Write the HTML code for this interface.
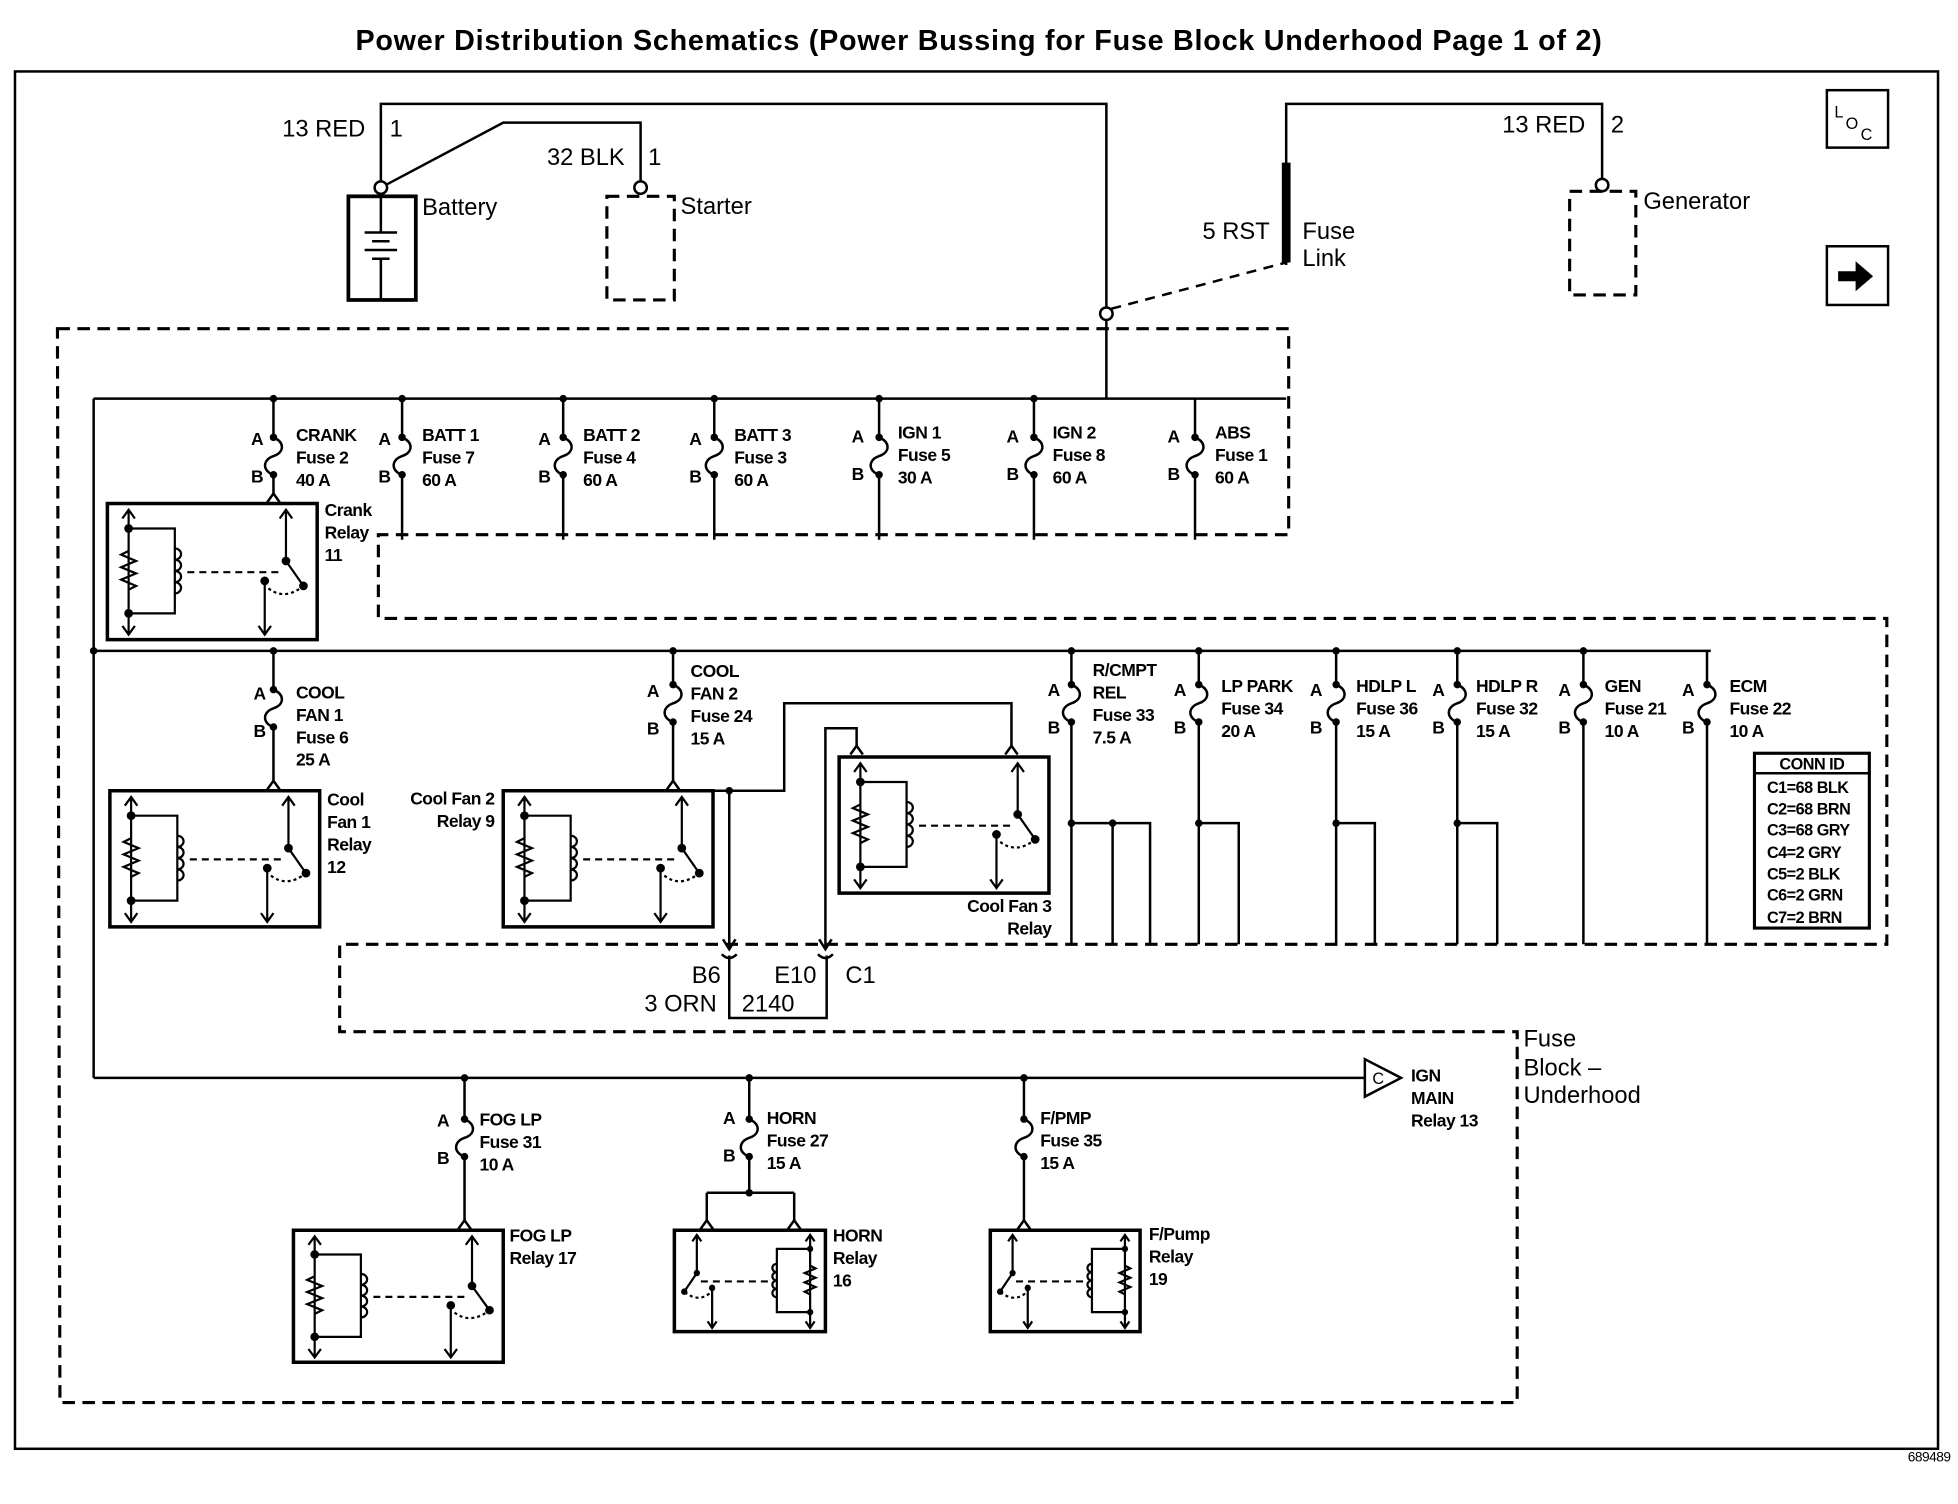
<!DOCTYPE html>
<html><head><meta charset="utf-8"><style>
html,body{margin:0;padding:0;background:#fff}
svg{display:block}
text{font-family:"Liberation Sans",sans-serif;font-weight:bold;font-size:14px;fill:#000;letter-spacing:-0.4px}
.big{font-size:19px;font-weight:normal;letter-spacing:0}
.l{stroke:#000;stroke-width:2;fill:none}
.d{stroke:#000;stroke-width:2.5;fill:none;stroke-dasharray:10 6}
</style></head><body>
<svg width="1958" height="1504" viewBox="0 0 1568 1204" xmlns="http://www.w3.org/2000/svg">
<defs>
<g id="relay">
 <rect x="0" y="0" width="168" height="109" stroke="#000" stroke-width="3.5" fill="none" vector-effect="non-scaling-stroke"/>
 <g stroke="#000" stroke-width="2.2" fill="none">
  <path d="M17,6 V104 M12,12 L17,5 L22,12 M12,98 L17,105 L22,98" vector-effect="non-scaling-stroke"/>
  <path d="M17,20 H54 V88 H17" vector-effect="non-scaling-stroke"/>
  <path d="M17,38 l-6,3 l12,5 l-12,5 l12,5 l-12,5 l12,5 l-6,3" vector-effect="non-scaling-stroke"/>
  <path d="M54,36 a5,4.5 0 0 1 0,9 a5,4.5 0 0 1 0,9 a5,4.5 0 0 1 0,9 a5,4.5 0 0 1 0,9" vector-effect="non-scaling-stroke"/>
  <path d="M64,55 H140" stroke-dasharray="7 5" vector-effect="non-scaling-stroke"/>
  <path d="M143,6 V46 L157,66 M138,12 L143,5 L148,12" vector-effect="non-scaling-stroke"/>
  <path d="M126,62 V104 M121,98 L126,105 L131,98" vector-effect="non-scaling-stroke"/>
  <path d="M129,68 Q142,78 157,66" stroke-dasharray="3 3" vector-effect="non-scaling-stroke"/>
 </g>
 <circle cx="17" cy="20" r="3.5"/><circle cx="17" cy="88" r="3.5"/>
 <circle cx="143" cy="46" r="3.5"/><circle cx="157" cy="66" r="3.5"/><circle cx="126" cy="62" r="3.5"/>
</g>
<g id="fuse">
 <path d="M0,0 c9,4 9,12 0,15 c-9,3 -9,12 0,15" class="l"/>
 <circle cx="0" cy="0" r="3"/><circle cx="0" cy="30" r="3"/>
</g>
<g id="arr"><path d="M-5,-8 L0,0 L5,-8" class="l"/></g>
</defs>

<text x="784" y="40" text-anchor="middle" style="font-size:23px;letter-spacing:0.6px">Power Distribution Schematics (Power Bussing for Fuse Block Underhood Page 1 of 2)</text>
<rect x="12" y="57" width="1540" height="1103" class="l"/>
<text x="1562" y="1170" text-anchor="end" style="font-size:11px;font-weight:normal">689489</text>

<!-- top wiring -->
<path d="M305,150 V83 H886 V246" class="l"/>
<path d="M305,150 L403,98 H513 V145" class="l"/>
<circle cx="305" cy="150" r="5" fill="#fff" stroke="#000" stroke-width="2"/>
<circle cx="513" cy="150" r="5" fill="#fff" stroke="#000" stroke-width="2"/>
<rect x="279" y="157" width="54" height="83" stroke="#000" stroke-width="3" fill="none"/>
<path d="M305,157 V185 M292,186 H318 M298,193 H312 M292,200 H318 M298,207 H312 M305,207 V240" class="l"/>
<rect x="486" y="157" width="54" height="83" class="d"/>
<text x="226" y="109" class="big">13 RED</text><text x="312" y="109" class="big">1</text>
<text x="438" y="132" class="big">32 BLK</text><text x="519" y="132" class="big">1</text>
<text x="338" y="172" class="big">Battery</text>
<text x="545" y="171" class="big">Starter</text>

<path d="M1030,212 V83 H1283 V143" class="l"/>
<path d="M1030,130 V210" stroke="#000" stroke-width="7"/>
<path d="M890,247 L1030,210" class="l" stroke-dasharray="8 6"/>
<circle cx="886" cy="251" r="5" fill="#fff" stroke="#000" stroke-width="2"/>
<circle cx="1283" cy="148" r="5" fill="#fff" stroke="#000" stroke-width="2"/>
<rect x="1257" y="153" width="53" height="83" class="d"/>
<text x="963" y="191" class="big">5 RST</text>
<text x="1043" y="191" class="big">Fuse</text><text x="1043" y="213" class="big">Link</text>
<text x="1203" y="106" class="big">13 RED</text><text x="1290" y="106" class="big">2</text>
<text x="1316" y="167" class="big">Generator</text>

<rect x="1463" y="72" width="49" height="46" class="l"/>
<text x="1469" y="94" style="font-size:13px;font-weight:normal">L</text>
<text x="1478" y="103" style="font-size:13px;font-weight:normal">O</text>
<text x="1490" y="112" style="font-size:13px;font-weight:normal">C</text>
<rect x="1463" y="197" width="49" height="47" class="l"/>
<path d="M1472,217 H1486 V209 L1500,221 L1486,233 V225 H1472 Z" fill="#000"/>

<!-- big dashed enclosure -->
<path d="M46,263 H1032 V428 H303 V495 H1511 V756 H272 V826 H1215 V1123 H48 Z" class="d"/>
<text x="1220" y="838" class="big">Fuse</text>
<text x="1220" y="861" class="big">Block –</text>
<text x="1220" y="883" class="big">Underhood</text>

<!-- buses -->
<path d="M886,256 V319 M75,319 H1030 M75,319 V863 M75,521 H1370 M75,863 H1093" class="l"/>
<circle cx="75" cy="521" r="3"/>
<path d="M1093,848 L1122,863 L1093,878 Z" fill="#fff" stroke="#000" stroke-width="2"/>
<text x="1099" y="868" style="font-size:13px;font-weight:normal">C</text>
<text x="1130" y="866">IGN</text><text x="1130" y="884">MAIN</text><text x="1130" y="902">Relay 13</text>

<!-- row 1 fuses -->
<g>
<circle cx="219" cy="319" r="3"/><circle cx="322" cy="319" r="3"/><circle cx="451" cy="319" r="3"/><circle cx="572" cy="319" r="3"/><circle cx="704" cy="319" r="3"/><circle cx="828" cy="319" r="3"/>
<path d="M219,319 V350 M219,380 V396 M322,319 V350 M322,380 V432 M451,319 V350 M451,380 V432 M572,319 V350 M572,380 V432 M704,319 V350 M704,380 V432 M828,319 V350 M828,380 V432 M957,319 V350 M957,380 V432" class="l"/>
<use href="#fuse" x="219" y="350"/><use href="#fuse" x="322" y="350"/><use href="#fuse" x="451" y="350"/><use href="#fuse" x="572" y="350"/><use href="#fuse" x="704" y="350"/><use href="#fuse" x="828" y="350"/><use href="#fuse" x="957" y="350"/>
<path d="M214,402 L219,395 L224,402" class="l"/>
<text x="201" y="356">A</text><text x="201" y="386">B</text><text x="237" y="353">CRANK</text><text x="237" y="371">Fuse 2</text><text x="237" y="389">40 A</text>
<text x="303" y="356">A</text><text x="303" y="386">B</text><text x="338" y="353">BATT 1</text><text x="338" y="371">Fuse 7</text><text x="338" y="389">60 A</text>
<text x="431" y="356">A</text><text x="431" y="386">B</text><text x="467" y="353">BATT 2</text><text x="467" y="371">Fuse 4</text><text x="467" y="389">60 A</text>
<text x="552" y="356">A</text><text x="552" y="386">B</text><text x="588" y="353">BATT 3</text><text x="588" y="371">Fuse 3</text><text x="588" y="389">60 A</text>
<text x="682" y="354">A</text><text x="682" y="384">B</text><text x="719" y="351">IGN 1</text><text x="719" y="369">Fuse 5</text><text x="719" y="387">30 A</text>
<text x="806" y="354">A</text><text x="806" y="384">B</text><text x="843" y="351">IGN 2</text><text x="843" y="369">Fuse 8</text><text x="843" y="387">60 A</text>
<text x="935" y="354">A</text><text x="935" y="384">B</text><text x="973" y="351">ABS</text><text x="973" y="369">Fuse 1</text><text x="973" y="387">60 A</text>
</g>
<use href="#relay" x="86" y="403"/>
<text x="260" y="413">Crank</text><text x="260" y="431">Relay</text><text x="260" y="449">11</text>

<!-- row 2 fuses -->
<g>
<circle cx="219" cy="521" r="3"/><circle cx="539" cy="521" r="3"/><circle cx="858" cy="521" r="3"/><circle cx="960" cy="521" r="3"/><circle cx="1070" cy="521" r="3"/><circle cx="1167" cy="521" r="3"/><circle cx="1268" cy="521" r="3"/>
<path d="M219,521 V552 M219,582 V626 M539,521 V548 M539,578 V626 M858,521 V548 M858,578 V756 M960,521 V548 M960,578 V756 M1070,521 V548 M1070,578 V756 M1167,521 V548 M1167,578 V756 M1268,521 V548 M1268,578 V756 M1367,521 V548 M1367,578 V756" class="l"/>
<path d="M858,659 H921 V756 M891,659 V756 M960,659 H992 V756 M1070,659 H1101 V756 M1167,659 H1199 V756" class="l"/>
<circle cx="858" cy="659" r="3"/><circle cx="891" cy="659" r="3"/><circle cx="960" cy="659" r="3"/><circle cx="1070" cy="659" r="3"/><circle cx="1167" cy="659" r="3"/>
<use href="#fuse" x="219" y="552"/><use href="#fuse" x="539" y="548"/><use href="#fuse" x="858" y="548"/><use href="#fuse" x="960" y="548"/><use href="#fuse" x="1070" y="548"/><use href="#fuse" x="1167" y="548"/><use href="#fuse" x="1268" y="548"/><use href="#fuse" x="1367" y="548"/>
<path d="M214,632 L219,625 L224,632 M534,632 L539,625 L544,632" class="l"/>
<text x="203" y="560">A</text><text x="203" y="590">B</text><text x="237" y="559">COOL</text><text x="237" y="577">FAN 1</text><text x="237" y="595">Fuse 6</text><text x="237" y="613">25 A</text>
<text x="518" y="558">A</text><text x="518" y="588">B</text><text x="553" y="542">COOL</text><text x="553" y="560">FAN 2</text><text x="553" y="578">Fuse 24</text><text x="553" y="596">15 A</text>
<text x="839" y="557">A</text><text x="839" y="587">B</text><text x="875" y="541">R/CMPT</text><text x="875" y="559">REL</text><text x="875" y="577">Fuse 33</text><text x="875" y="595">7.5 A</text>
<text x="940" y="557">A</text><text x="940" y="587">B</text><text x="978" y="554">LP PARK</text><text x="978" y="572">Fuse 34</text><text x="978" y="590">20 A</text>
<text x="1049" y="557">A</text><text x="1049" y="587">B</text><text x="1086" y="554">HDLP L</text><text x="1086" y="572">Fuse 36</text><text x="1086" y="590">15 A</text>
<text x="1147" y="557">A</text><text x="1147" y="587">B</text><text x="1182" y="554">HDLP R</text><text x="1182" y="572">Fuse 32</text><text x="1182" y="590">15 A</text>
<text x="1248" y="557">A</text><text x="1248" y="587">B</text><text x="1285" y="554">GEN</text><text x="1285" y="572">Fuse 21</text><text x="1285" y="590">10 A</text>
<text x="1347" y="557">A</text><text x="1347" y="587">B</text><text x="1385" y="554">ECM</text><text x="1385" y="572">Fuse 22</text><text x="1385" y="590">10 A</text>
</g>
<use href="#relay" x="88" y="633"/>
<text x="262" y="645">Cool</text><text x="262" y="663">Fan 1</text><text x="262" y="681">Relay</text><text x="262" y="699">12</text>
<use href="#relay" x="403" y="633"/>
<text x="396" y="644" text-anchor="end">Cool Fan 2</text><text x="396" y="662" text-anchor="end">Relay 9</text>
<use href="#relay" x="672" y="606"/>
<text x="842" y="730" text-anchor="end">Cool Fan 3</text><text x="842" y="748" text-anchor="end">Relay</text>

<!-- cool fan wiring to connector -->
<path d="M571,633 H584 V760 M584,633 H628 V563 H810 V598 M661,760 V583 H686 V598" class="l"/>
<circle cx="584" cy="633" r="3"/>
<path d="M805,604 L810,597 L815,604 M681,604 L686,597 L691,604" class="l"/>
<use href="#arr" x="584" y="760"/><use href="#arr" x="661" y="760"/>
<path d="M584,765 V815 H662 V765" class="l"/>
<path d="M578,764 Q584,770 590,764 M655,764 Q661,770 667,764" class="l"/>
<text x="554" y="787" class="big">B6</text>
<text x="620" y="787" class="big">E10</text>
<text x="677" y="787" class="big">C1</text>
<text x="516" y="810" class="big">3 ORN</text>
<text x="594" y="810" class="big">2140</text>

<!-- CONN ID -->
<rect x="1405" y="603" width="92" height="140" stroke="#000" stroke-width="2.5" fill="none"/>
<path d="M1405,619 H1497" class="l"/>
<text x="1451" y="616" text-anchor="middle" style="font-size:13px">CONN ID</text>
<text x="1415" y="635" style="font-size:13px">C1=68 BLK</text>
<text x="1415" y="652" style="font-size:13px">C2=68 BRN</text>
<text x="1415" y="669" style="font-size:13px">C3=68 GRY</text>
<text x="1415" y="687" style="font-size:13px">C4=2 GRY</text>
<text x="1415" y="704" style="font-size:13px">C5=2 BLK</text>
<text x="1415" y="721" style="font-size:13px">C6=2 GRN</text>
<text x="1415" y="739" style="font-size:13px">C7=2 BRN</text>

<!-- bottom fuses -->
<circle cx="372" cy="863" r="3"/><circle cx="600" cy="863" r="3"/><circle cx="820" cy="863" r="3"/>
<path d="M372,863 V896 M372,926 V978 M600,863 V896 M600,926 V955 M566,955 H636 M566,955 V978 M636,955 V978 M820,863 V896 M820,926 V978" class="l"/>
<circle cx="600" cy="955" r="3"/>
<use href="#fuse" x="372" y="896"/><use href="#fuse" x="600" y="896"/><use href="#fuse" x="820" y="896"/>
<path d="M367,984 L372,977 L377,984 M561,984 L566,977 L571,984 M631,984 L636,977 L641,984 M815,984 L820,977 L825,984" class="l"/>
<text x="350" y="902">A</text><text x="350" y="932">B</text><text x="384" y="901">FOG LP</text><text x="384" y="919">Fuse 31</text><text x="384" y="937">10 A</text>
<text x="579" y="900">A</text><text x="579" y="930">B</text><text x="614" y="900">HORN</text><text x="614" y="918">Fuse 27</text><text x="614" y="936">15 A</text>
<text x="833" y="900">F/PMP</text><text x="833" y="918">Fuse 35</text><text x="833" y="936">15 A</text>
<use href="#relay" transform="translate(235,985) scale(1.0,0.97)"/>
<text x="408" y="994">FOG LP</text><text x="408" y="1012">Relay 17</text>
<use href="#relay" transform="translate(661,985) scale(-0.72,0.745)"/>
<text x="667" y="994">HORN</text><text x="667" y="1012">Relay</text><text x="667" y="1030">16</text>
<use href="#relay" transform="translate(913,985) scale(-0.714,0.745)"/>
<text x="920" y="993">F/Pump</text><text x="920" y="1011">Relay</text><text x="920" y="1029">19</text>
</svg>
</body></html>
